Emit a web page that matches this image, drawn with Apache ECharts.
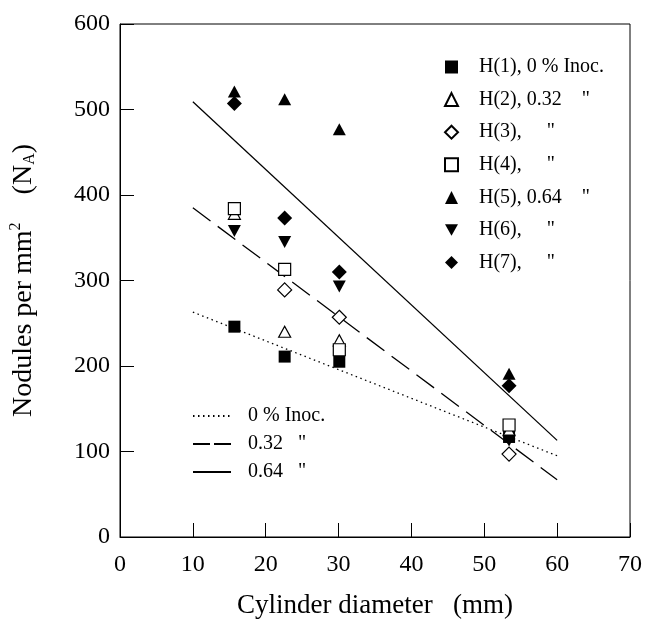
<!DOCTYPE html>
<html>
<head>
<meta charset="utf-8">
<script src="https://cdn.jsdelivr.net/npm/echarts@6/dist/echarts.min.js"></script>
<style>
  html, body { margin: 0; padding: 0; background: #fff; }
  #chart { width: 645px; height: 625px; }
</style>
</head>
<body>
<div id="chart"></div>
<script>
// values
var xTicks = [0, 10, 20, 30, 40, 50, 60, 70];
var yTicks = [0, 100, 200, 300, 400, 500, 600];

var h1 = [[15.7, 246], [22.6, 211], [30.1, 205], [53.4, 117]];
var h2 = [[15.7, 378], [22.6, 240], [30.1, 230], [53.4, 125]];
var h3 = [[22.6, 289], [30.1, 257], [53.4, 97]];
var h4 = [[15.7, 384], [22.6, 313], [30.1, 219], [53.4, 131]];
var h5 = [[15.7, 521], [22.6, 512], [30.1, 477], [53.4, 191]];
var h6 = [[15.7, 358], [22.6, 345], [30.1, 293], [53.4, 113]];
var h7 = [[15.7, 507], [22.6, 373], [30.1, 310], [53.4, 177]];

var fit0 = [[10, 263], [60, 95]];
var fit032 = [[10, 385], [60, 67]];
var fit064 = [[10, 509], [60, 113]];

var pointNames = ['H(1), 0 % Inoc.', 'H(2), 0.32    "', 'H(3),     "', 'H(4),     "',
                  'H(5), 0.64    "', 'H(6),     "', 'H(7),     "'];
var lineNames = ['0 % Inoc.', '0.32   "', '0.64   "'];

var font = 'Liberation Serif';
var downTri = 'path://M0,0 L10,0 L5,9 Z';

function pts(name, data, symbol, size, filled) {
  return {
    name: name,
    type: 'scatter',
    data: data,
    symbol: symbol,
    symbolSize: size,
    itemStyle: filled ? { color: '#000', opacity: 1 } : { color: '#fff', borderColor: '#000', borderWidth: 1.2, opacity: 1 },
    z: 3
  };
}

function fit(name, data, type) {
  return {
    name: name,
    type: 'line',
    data: data,
    symbol: 'none',
    lineStyle: { color: '#000', width: 1.3, type: type },
    itemStyle: { color: '#000' },
    z: 2
  };
}

var chart = echarts.init(document.getElementById('chart'));
var option = {
  backgroundColor: '#fff',
  animation: false,
  textStyle: { fontFamily: font, color: '#000' },
  grid: { left: 120, right: 12, top: 24, bottom: 88, show: true, borderColor: '#000', borderWidth: 1 },
  legend: [{
    data: pointNames,
    orient: 'vertical',
    left: 439, top: 52,
    itemWidth: 13, itemHeight: 13,
    itemGap: 12.6,
    textStyle: { fontFamily: font, fontSize: 20, color: '#000', padding: [0, 0, 0, 16] }
  }, {
    data: [lineNames[0], { name: lineNames[1], lineStyle: { type: [17, 4] } }, lineNames[2]],
    orient: 'vertical',
    left: 187, top: 401,
    itemWidth: 38, itemHeight: 14,
    itemGap: 8,
    itemStyle: { opacity: 0 },
    textStyle: { fontFamily: font, fontSize: 20, color: '#000', padding: [0, 0, 0, 12] }
  }],
  xAxis: {
    type: 'value',
    min: 0, max: 70, interval: 10,
    name: 'Cylinder diameter   (mm)',
    nameLocation: 'middle',
    nameGap: 55,
    nameTextStyle: { fontFamily: font, fontSize: 27, color: '#000' },
    axisLine: { lineStyle: { color: '#000', width: 1 } },
    axisTick: { inside: true, length: 14, lineStyle: { color: '#000' } },
    axisLabel: { fontFamily: font, fontSize: 24, color: '#000', margin: 16 },
    splitLine: { show: false }
  },
  yAxis: {
    type: 'value',
    min: 0, max: 600, interval: 100,
    name: '{a|Nodules per mm}{sup|2}{a|    (N}{sub|A}{a|)}',
    nameLocation: 'middle',
    nameRotate: 90,
    nameGap: 80,
    nameTextStyle: {
      fontFamily: font, fontSize: 28, color: '#000',
      rich: {
        a: { fontFamily: font, fontSize: 28, color: '#000' },
        sup: { fontFamily: font, fontSize: 16, color: '#000', padding: [0, 0, 16, 0] },
        sub: { fontFamily: font, fontSize: 16, color: '#000', padding: [12, 0, 0, 0] }
      }
    },
    axisLine: { show: true, lineStyle: { color: '#000', width: 1 } },
    axisTick: { show: true, inside: true, length: 14, lineStyle: { color: '#000' } },
    axisLabel: { fontFamily: font, fontSize: 24, color: '#000', margin: 10 },
    splitLine: { show: false }
  },
  series: [
    pts(pointNames[0], h1, 'rect', 12, true),
    pts(pointNames[1], h2, 'triangle', [12, 11], false),
    pts(pointNames[2], h3, 'diamond', [14, 14], false),
    pts(pointNames[3], h4, 'rect', 12, false),
    pts(pointNames[4], h5, 'triangle', [13, 12], true),
    pts(pointNames[5], h6, downTri, [13, 12], true),
    pts(pointNames[6], h7, 'diamond', [15, 15], true),
    fit(lineNames[0], fit0, [1.5, 3.5]),
    fit(lineNames[1], fit032, [22, 9]),
    fit(lineNames[2], fit064, 'solid')
  ]
};
chart.setOption(option);
</script>
</body>
</html>
